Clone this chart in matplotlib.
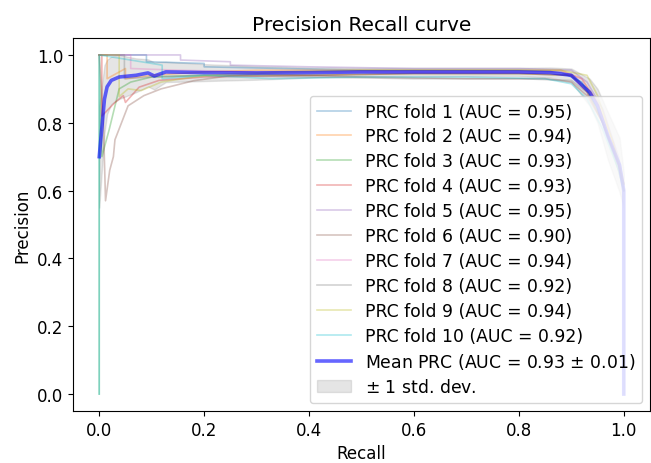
import matplotlib
matplotlib.use('Agg')
import matplotlib.pyplot as plt
import numpy as np

# fold curves (recall, precision)
fold_recall = [
    [0, 0.09, 0.09, 0.2, 0.2, 0.35, 0.5, 0.65, 0.8, 0.88, 0.92, 0.95, 0.98, 1.0],
    [0, 0.015, 0.015, 0.05, 0.05, 0.1, 0.2, 0.3, 0.5, 0.7, 0.88, 0.92, 0.95, 0.98, 1.0],
    [0, 0, 0.005, 0.019, 0.038, 0.06, 0.1, 0.2, 0.4, 0.6, 0.8, 0.9, 0.93, 0.96, 0.99, 1.0],
    [0, 0.005, 0.005, 0.03, 0.046, 0.05, 0.076, 0.114, 0.2, 0.4, 0.6, 0.8, 0.9, 0.93, 0.96, 0.99, 1.0],
    [0, 0.155, 0.155, 0.25, 0.25, 0.4, 0.6, 0.8, 0.9, 0.93, 0.96, 0.99, 1.0],
    [0, 0.008, 0.012, 0.02, 0.027, 0.03, 0.055, 0.085, 0.118, 0.18, 0.245, 0.31, 0.5, 0.7, 0.85, 0.9, 0.93, 0.96, 0.99, 1.0],
    [0, 0.06, 0.06, 0.15, 0.3, 0.5, 0.7, 0.88, 0.92, 0.95, 0.98, 1.0],
    [0, 0.048, 0.048, 0.1, 0.2, 0.4, 0.6, 0.8, 0.9, 0.93, 0.96, 0.99, 1.0],
    [0, 0.038, 0.038, 0.055, 0.08, 0.118, 0.18, 0.245, 0.35, 0.5, 0.7, 0.88, 0.93, 0.95, 0.98, 1.0],
    [0, 0, 0.12, 0.12, 0.2, 0.33, 0.5, 0.7, 0.85, 0.9, 0.93, 0.96, 0.99, 1.0],
]
fold_precision = [
    [1.0, 1.0, 0.98, 0.975, 0.965, 0.96, 0.955, 0.955, 0.955, 0.95, 0.92, 0.84, 0.72, 0.62],
    [1.0, 1.0, 0.93, 0.96, 0.93, 0.94, 0.95, 0.955, 0.955, 0.955, 0.955, 0.93, 0.86, 0.74, 0.62],
    [0.0, 1.0, 0.7, 0.78, 0.9, 0.92, 0.935, 0.94, 0.94, 0.945, 0.945, 0.94, 0.9, 0.8, 0.66, 0.6],
    [1.0, 1.0, 0.82, 0.86, 0.88, 0.86, 0.905, 0.925, 0.935, 0.94, 0.945, 0.945, 0.94, 0.89, 0.8, 0.68, 0.6],
    [1.0, 1.0, 0.985, 0.98, 0.97, 0.965, 0.96, 0.96, 0.955, 0.92, 0.84, 0.7, 0.62],
    [1.0, 0.8, 0.57, 0.66, 0.70, 0.75, 0.85, 0.88, 0.90, 0.924, 0.938, 0.944, 0.935, 0.93, 0.93, 0.92, 0.88, 0.8, 0.68, 0.6],
    [1.0, 1.0, 0.96, 0.955, 0.95, 0.95, 0.95, 0.95, 0.93, 0.85, 0.72, 0.6],
    [1.0, 1.0, 0.93, 0.935, 0.94, 0.935, 0.93, 0.93, 0.925, 0.89, 0.8, 0.68, 0.6],
    [1.0, 1.0, 0.877, 0.90, 0.895, 0.92, 0.935, 0.944, 0.95, 0.955, 0.955, 0.955, 0.94, 0.88, 0.74, 0.62],
    [0.0, 1.0, 0.97, 0.93, 0.94, 0.93, 0.935, 0.935, 0.93, 0.915, 0.87, 0.78, 0.66, 0.6],
]
fold_auc = [0.95, 0.94, 0.93, 0.93, 0.95, 0.90, 0.94, 0.92, 0.94, 0.92]

mean_recall = [0, 0.01, 0.015, 0.023, 0.038, 0.07, 0.093, 0.105, 0.127, 0.2, 0.3, 0.4,
               0.5, 0.6, 0.7, 0.8, 0.86, 0.9, 0.935, 0.95, 0.97, 0.992, 1.0, 1.0]
mean_precision = [0.70, 0.87, 0.906, 0.925, 0.935, 0.94, 0.947, 0.938, 0.95, 0.948, 0.947, 0.948,
                  0.95, 0.95, 0.95, 0.95, 0.948, 0.94, 0.89, 0.85, 0.76, 0.675, 0.6, 0.0]
std_precision = [0.15, 0.1, 0.08, 0.07, 0.065, 0.05, 0.04, 0.04, 0.03, 0.025, 0.02, 0.015,
                 0.012, 0.012, 0.012, 0.012, 0.015, 0.02, 0.04, 0.05, 0.07, 0.08, 0.05, 0.0]
mean_auc = 0.93
std_auc = 0.01

fig = plt.figure(figsize=(6.51, 4.64), dpi=100)
ax = fig.add_axes([73/651, 1 - 412/464, (650 - 73)/651, (412 - 39)/464])

for i in range(len(fold_recall)):
    ax.plot(fold_recall[i], fold_precision[i], lw=1.2, alpha=0.35,
            label='PRC fold %d (AUC = %0.2f)' % (i + 1, fold_auc[i]))

mr = np.array(mean_recall)
mp = np.array(mean_precision)
sp = np.array(std_precision)
ax.plot(mr, mp, color='b', lw=2.6, alpha=0.6,
        label=r'Mean PRC (AUC = %0.2f $\pm$ %0.2f)' % (mean_auc, std_auc))
ax.fill_between(mr, np.maximum(mp - sp, 0), np.minimum(mp + sp, 1), color='grey', alpha=0.2,
                label=r'$\pm$ 1 std. dev.')

ax.set_xlim(-0.05, 1.05)
ax.set_ylim(-0.05, 1.05)
ax.tick_params(labelsize=12)
ax.set_xlabel('Recall', fontsize=12)
ax.set_ylabel('Precision', fontsize=12)
ax.set_title('Precision Recall curve', fontsize=14.5)
ax.legend(loc='lower right', fontsize=12.4, labelspacing=0.4, borderaxespad=0.45)

fig.savefig('out.png', dpi=100)
